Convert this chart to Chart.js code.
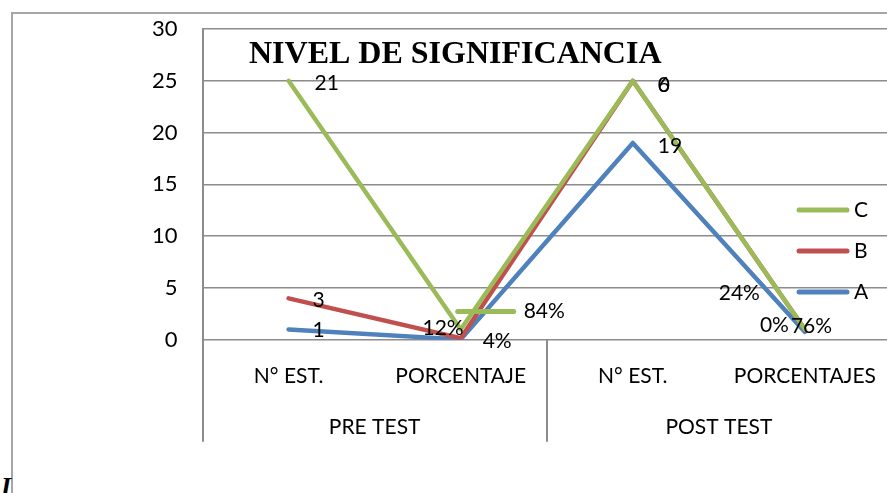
<!DOCTYPE html>
<html>
<head>
<meta charset="utf-8">
<script src="https://cdn.jsdelivr.net/npm/chart.js@4.4.0/dist/chart.umd.min.js"></script>
<style>
html, body { margin: 0; padding: 0; overflow: hidden; background: #fff; }
#wrap { position: relative; width: 900px; height: 493px; }
#frame { position: absolute; left: 11px; top: 12px; width: 950px; height: 520px;
  border-top: 2px solid #a6a6a6; border-left: 2px solid #a6a6a6; }
#stray { position: absolute; left: 1px; top: 472px; font: italic bold 26px 'Liberation Serif'; }
canvas { position: absolute; left: 0; top: 0; }
</style>
</head>
<body>
<div id="wrap">
  <div id="frame"></div>
  <span id="stray">I</span>
  <canvas id="nivel" width="900" height="493"></canvas>
</div>
<script>
// Nivel de significancia
const categories = ['N° EST.', 'PORCENTAJE', 'N° EST.', 'PORCENTAJES'];
const groups = ['PRE TEST', 'POST TEST'];
const seriesA = [1, 0.04, 19, 0.76];
const seriesB = [3, 0.12, 6, 0.24];
const seriesC = [21, 0.84, 0, 0];
const textA = ['1', '4%', '19', '76%'];
const textB = ['3', '12%', '6', '24%'];
const textC = ['21', '84%', '0', '0%'];

// stacked line (excel style): each series sits on top of the previous ones
const stackB = seriesA.map((v, i) => v + seriesB[i]);
const stackC = stackB.map((v, i) => v + seriesC[i]);

const blue = '#4f81bd';
const red = '#c0504d';
const green = '#9bbb59';
const gridGrey = '#8c8c8c';
const font = 'Lato';

// label placement around each point: [dx, dy, align]
const placeA = [[24, 1, 'left'], [22, 2, 'left'], [25, 3, 'left'], [-14, -6, 'left']];
const placeB = [[24, 2, 'left'], [3, -10, 'right'], [25, 4, 'left'], [-45, -36, 'right']];
const placeC = [[26, 2, 'left'], [63, -18, 'left'], [25, 4, 'left'], [-16, -4, 'right']];

const extras = {
    id: 'extras',
    afterDraw(chart) {
        const ctx = chart.ctx;
        const x = chart.scales.x;
        const area = chart.chartArea;
        ctx.save();

        // separators of the two category groups
        ctx.strokeStyle = gridGrey;
        ctx.lineWidth = 2;
        const cuts = [x.left, (x.getPixelForValue(1) + x.getPixelForValue(2)) / 2, x.right];
        cuts.forEach(cx => {
            ctx.beginPath();
            ctx.moveTo(Math.round(cx), area.bottom);
            ctx.lineTo(Math.round(cx), area.bottom + 102);
            ctx.stroke();
        });

        ctx.fillStyle = '#000';
        ctx.font = '21px ' + font;
        ctx.textBaseline = 'middle';

        // group labels under the categories
        ctx.textAlign = 'center';
        groups.forEach((g, i) => {
            const mid = (x.getPixelForValue(i * 2) + x.getPixelForValue(i * 2 + 1)) / 2;
            ctx.fillText(g, mid, area.bottom + 87);
        });

        // data labels
        const sets = [[2, textA, placeA], [1, textB, placeB], [0, textC, placeC]];
        sets.forEach(([di, texts, place]) => {
            const pts = chart.getDatasetMeta(di).data;
            pts.forEach((p, i) => {
                const [dx, dy, align] = place[i];
                ctx.textAlign = align;
                ctx.fillText(texts[i], p.x + dx, p.y + dy);
            });
        });

        // legend key shown with the 84% label
        const p84 = chart.getDatasetMeta(0).data[1];
        ctx.strokeStyle = green;
        ctx.lineWidth = 5;
        ctx.lineCap = 'round';
        ctx.beginPath();
        ctx.moveTo(p84.x - 3, p84.y - 18);
        ctx.lineTo(p84.x + 53, p84.y - 18);
        ctx.stroke();

        // legend
        ctx.textAlign = 'left';
        chart.data.datasets.forEach((ds, i) => {
            const y = 210 + i * 41;
            ctx.strokeStyle = ds.borderColor;
            ctx.beginPath();
            ctx.moveTo(799, y);
            ctx.lineTo(847, y);
            ctx.stroke();
            ctx.fillText(ds.label, 854, y);
        });

        // title
        ctx.font = 'bold 32px "Liberation Serif"';
        ctx.textBaseline = 'alphabetic';
        ctx.fillText('NIVEL DE SIGNIFICANCIA', 249, 63);
        ctx.restore();
    }
};

const config = {
    type: 'line',
    data: {
        labels: categories,
        datasets: [
            { label: 'C', data: stackC, borderColor: green },
            { label: 'B', data: stackB, borderColor: red },
            { label: 'A', data: seriesA, borderColor: blue }
        ]
    },
    options: {
        responsive: false,
        animation: false,
        layout: {
            padding: { left: 150, top: 29, right: 0, bottom: 80 }
        },
        elements: {
            line: { borderWidth: 4.5, tension: 0, borderCapStyle: 'round', borderJoinStyle: 'round' },
            point: { radius: 0, hoverRadius: 0 }
        },
        scales: {
            y: {
                min: 0,
                max: 30,
                ticks: { stepSize: 5, color: '#000', font: { family: font, size: 22 }, padding: 2 },
                grid: { color: gridGrey, lineWidth: 1.5, drawTicks: true, tickLength: 23, tickColor: 'rgba(0,0,0,0)' },
                border: { display: true, color: gridGrey, width: 2 }
            },
            x: {
                offset: true,
                ticks: { color: '#000', font: { family: font, size: 21 }, padding: 24, maxRotation: 0, autoSkip: false },
                grid: { display: false, drawTicks: false },
                border: { display: false }
            }
        },
        plugins: {
            legend: { display: false },
            title: { display: false },
            tooltip: { enabled: false }
        }
    },
    plugins: [extras]
};

const nivelChart = new Chart(document.getElementById('nivel'), config);
</script>
</body>
</html>
